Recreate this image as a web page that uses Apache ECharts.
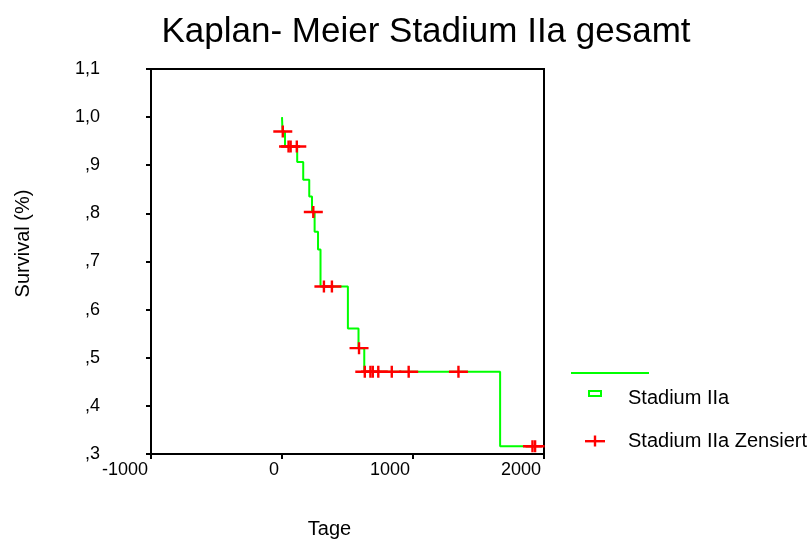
<!DOCTYPE html>
<html>
<head>
<meta charset="utf-8">
<style>
  html, body { margin: 0; padding: 0; background: #fff; }
  #chart { width: 812px; height: 544px; }
</style>
<script src="https://cdn.jsdelivr.net/npm/echarts@6/dist/echarts.min.js"></script>
</head>
<body>
<div id="chart"></div>
<script>
// Kaplan-Meier step curve: day of each event and survival right after it
const eventDays = [0, 4, 23, 116, 162, 208, 229, 249, 275, 294, 503, 584, 628, 1665, 1932];
const survival  = [1.0, 0.970, 0.939, 0.907, 0.870, 0.835, 0.803, 0.762, 0.725, 0.648, 0.561, 0.520, 0.471, 0.316, 0.316];

// Censored cases (day, survival level at that day)
const censorDays     = [6, 50, 66, 113, 239, 320, 381, 588, 632, 675, 693, 735, 838, 967, 1347, 1912, 1932];
const censorSurvival = [0.970, 0.939, 0.939, 0.939, 0.803, 0.648, 0.648, 0.520, 0.471, 0.471, 0.471, 0.471, 0.471, 0.471, 0.471, 0.316, 0.316];

// Axis ranges
const xTicks = { min: -1000, max: 2000, step: 1000 };
const yTicks = { min: 0.3, max: 1.1, step: 0.1 };

const seriesName = 'Stadium IIa';
const censorName = 'Stadium IIa Zensiert';

const FONT = '"Liberation Sans", Arial, sans-serif';
const GREEN = '#00ff00';
const RED = '#ff0000';

const curveData = eventDays.map((d, i) => [d, survival[i]]);
const censorData = censorDays.map((d, i) => [d, censorSurvival[i]]);

// plus-shaped censor mark
const plusPath = 'path://M0 4.8H19V7.2H0Z M8.3 0H10.7V12H8.3Z';

function yLabel(v) {
  const s = (Math.round(v * 10) / 10).toFixed(1).replace('.', ',');
  return s.startsWith('0') ? s.slice(1) : s;
}

const chart = echarts.init(document.getElementById('chart'));
chart.setOption({
  animation: false,
  backgroundColor: '#fff',
  textStyle: { fontFamily: FONT },
  title: {
    text: 'Kaplan- Meier Stadium IIa gesamt',
    left: 421, top: 10, textAlign: 'center',
    textStyle: { fontFamily: FONT, fontSize: 35, fontWeight: 'normal', color: '#000' }
  },
  grid: {
    left: 151, right: 268, top: 69, bottom: 89,
    show: true, borderColor: '#000', borderWidth: 2, backgroundColor: 'transparent'
  },
  xAxis: {
    type: 'value',
    min: xTicks.min, max: xTicks.max, interval: xTicks.step,
    name: 'Tage',
    nameLocation: 'middle',
    nameGap: 65,
    nameTextStyle: { fontFamily: FONT, fontSize: 20, color: '#000', padding: [0, 36, 0, 0] },
    axisLine: { onZero: false, lineStyle: { color: '#000', width: 2 } },
    axisTick: { show: true, length: 5, lineStyle: { color: '#000', width: 2 } },
    axisLabel: {
      fontFamily: FONT, fontSize: 18, color: '#000', margin: 7,
      align: 'right', padding: [0, 3, 0, 0],
      formatter: v => String(v)
    },
    splitLine: { show: false }
  },
  yAxis: {
    type: 'value',
    min: yTicks.min, max: yTicks.max, interval: yTicks.step,
    name: 'Survival (%)',
    nameLocation: 'middle',
    nameGap: 118,
    nameTextStyle: { fontFamily: FONT, fontSize: 20, color: '#000', padding: [0, 0, 0, 36] },
    axisLine: { onZero: false, lineStyle: { color: '#000', width: 2 } },
    axisTick: { show: true, length: 5, lineStyle: { color: '#000', width: 2 } },
    axisLabel: {
      fontFamily: FONT, fontSize: 18, color: '#000', margin: 51,
      formatter: yLabel
    },
    splitLine: { show: false }
  },
  series: [
    {
      name: seriesName,
      type: 'line',
      step: 'end',
      data: curveData,
      showSymbol: false,
      symbol: 'none',
      lineStyle: { color: GREEN, width: 2 },
      z: 2
    },
    {
      name: censorName,
      type: 'scatter',
      data: censorData,
      symbol: plusPath,
      symbolSize: [19, 12],
      itemStyle: { color: RED, opacity: 1 },
      z: 3
    }
  ],
  graphic: [
    // legend: line swatch, hollow box for the curve, plus for censored cases
    { type: 'line', shape: { x1: 571, y1: 373, x2: 649, y2: 373 },
      style: { stroke: GREEN, lineWidth: 2 } },
    { type: 'rect', shape: { x: 589, y: 391, width: 12, height: 5 },
      style: { fill: 'transparent', stroke: GREEN, lineWidth: 2 } },
    { type: 'text', left: 628, top: 388,
      style: { text: seriesName, font: '20px ' + FONT, fill: '#000' } },
    { type: 'rect', shape: { x: 585, y: 440, width: 20, height: 2.4 }, style: { fill: RED } },
    { type: 'rect', shape: { x: 593.8, y: 435.5, width: 2.4, height: 11 }, style: { fill: RED } },
    { type: 'text', left: 628, top: 431,
      style: { text: censorName, font: '20px ' + FONT, fill: '#000' } }
  ]
});
</script>
</body>
</html>
